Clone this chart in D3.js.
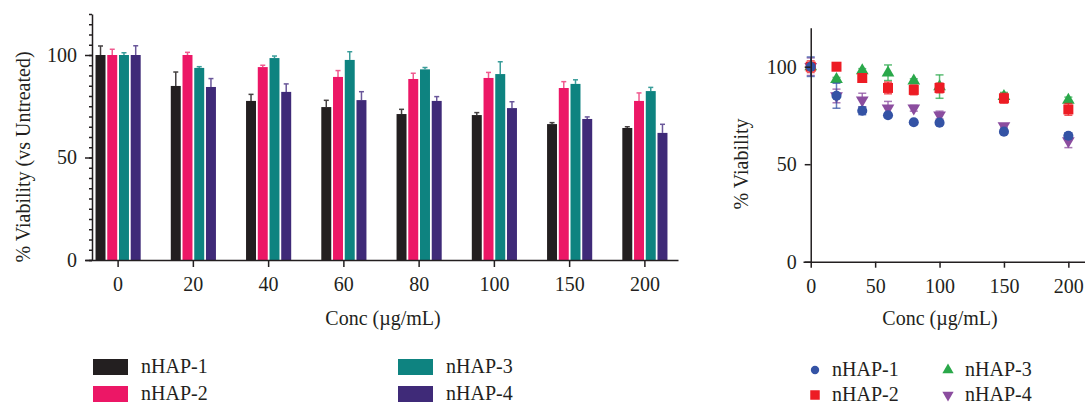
<!DOCTYPE html>
<html>
<head>
<meta charset="utf-8">
<script src="https://cdn.jsdelivr.net/npm/d3@7"></script>
<style>
  body { margin: 0; background: #fff; }
  svg text { font-family: "Liberation Serif", "DejaVu Serif", serif; fill: #231f20; }
</style>
</head>
<body>
<div id="my_dataviz"></div>
<script>
// categories and series
var concs = ["0", "20", "40", "60", "80", "100", "150", "200"];
var concNum = [0, 20, 40, 60, 80, 100, 150, 200];
var series = ["nHAP-1", "nHAP-2", "nHAP-3", "nHAP-4"];

// bar chart values (mean, upper error)
var hap1Bar = [100, 84.9, 77.6, 74.6, 71.2, 70.7, 66.3, 64.4];
var hap2Bar = [100, 100, 94.1, 89.3, 88.3, 88.8, 83.9, 77.6];
var hap3Bar = [100, 93.7, 98.5, 97.6, 93.0, 90.7, 85.9, 82.4];
var hap4Bar = [100, 84.4, 82.0, 78.0, 77.6, 74.1, 68.8, 62.0];
var hap1BarErr = [4.4, 6.8, 3.2, 3.3, 2.3, 1.2, 0.7, 0.6];
var hap2BarErr = [2.8, 1.3, 0.9, 3.1, 2.8, 2.7, 3.1, 3.9];
var hap3BarErr = [1.1, 0.6, 1.0, 4.0, 0.9, 6.0, 2.0, 1.8];
var hap4BarErr = [4.5, 4.1, 3.9, 4.1, 2.1, 3.1, 1.0, 4.2];

// scatter values (mean, +/- error)
var hap1Pt = [100, 85.1, 77.4, 75.1, 71.5, 71.3, 66.7, 64.6];
var hap2Pt = [100, 100, 94.2, 89.1, 88.1, 89.1, 83.8, 78.1];
var hap3Pt = [100, 93.5, 98.0, 96.9, 92.8, 89.8, 84.8, 82.9];
var hap4Pt = [100, 85.0, 82.9, 78.7, 78.7, 75.2, 69.6, 62.0];
var hap1PtErr = [5, 6.4, 2, 1, 1, 1, 1, 1.5];
var hap2PtErr = [3, 1, 1, 3, 2.5, 2.5, 2.5, 3];
var hap3PtErr = [1, 1, 1, 4, 1, 6, 2, 1.5];
var hap4PtErr = [4.5, 3.5, 3.5, 3.5, 1.5, 2, 1, 3.5];

var yTicksMajor = [0, 50, 100];
var xTicksRight = [0, 50, 100, 150, 200];

var barColors = ["#231f20", "#ec1766", "#0e8380", "#3f2a78"];
var errColors = ["#444041", "#f0598f", "#3a9d9a", "#6a579a"];
var ptColors = ["#3453a5", "#ed1c24", "#2aa84a", "#8b4d9f"];

var barVals = [hap1Bar, hap2Bar, hap3Bar, hap4Bar];
var barErrs = [hap1BarErr, hap2BarErr, hap3BarErr, hap4BarErr];
var ptVals = [hap1Pt, hap2Pt, hap3Pt, hap4Pt];
var ptErrs = [hap1PtErr, hap2PtErr, hap3PtErr, hap4PtErr];

var width = 1085, height = 404;
var axisColor = "#231f20";

var svg = d3.select("#my_dataviz")
  .append("svg")
    .attr("width", width)
    .attr("height", height);

// ---------------- left: grouped bar chart ----------------
var x0 = d3.scaleBand()
  .domain(concs)
  .range([85, 678])
  .paddingInner(0.4)
  .paddingOuter(0.14);

var x1 = d3.scaleBand()
  .domain(series)
  .range([0, x0.bandwidth()])
  .paddingInner(0.15);

var yL = d3.scaleLinear()
  .domain([0, 120])
  .range([260, 14]);

var left = svg.append("g");

var groups = left.selectAll("g.grp")
  .data(concs)
  .enter().append("g")
    .attr("class", "grp")
    .attr("transform", function(d) { return "translate(" + x0(d) + ",0)"; });

series.forEach(function(s, si) {
  // error bars (upper only)
  groups.append("line")
    .attr("x1", function(d, i) { return x1(s) + x1.bandwidth() / 2; })
    .attr("x2", function(d, i) { return x1(s) + x1.bandwidth() / 2; })
    .attr("y1", function(d, i) { return yL(barVals[si][i]); })
    .attr("y2", function(d, i) { return yL(barVals[si][i] + barErrs[si][i]); })
    .attr("stroke", errColors[si])
    .attr("stroke-width", 1.5);
  groups.append("line")
    .attr("x1", function(d, i) { return x1(s) + x1.bandwidth() / 2 - 2.5; })
    .attr("x2", function(d, i) { return x1(s) + x1.bandwidth() / 2 + 2.5; })
    .attr("y1", function(d, i) { return yL(barVals[si][i] + barErrs[si][i]); })
    .attr("y2", function(d, i) { return yL(barVals[si][i] + barErrs[si][i]); })
    .attr("stroke", errColors[si])
    .attr("stroke-width", 1.5);
  groups.append("rect")
    .attr("x", x1(s))
    .attr("width", x1.bandwidth())
    .attr("y", function(d, i) { return yL(barVals[si][i]); })
    .attr("height", function(d, i) { return yL(0) - yL(barVals[si][i]); })
    .attr("fill", barColors[si]);
});

// y axis: minor ticks every 5, major at 0/50/100
left.append("g")
  .attr("transform", "translate(92,0)")
  .call(d3.axisLeft(yL).tickValues(d3.range(0, 121, 5)).tickSize(3).tickSizeOuter(0).tickFormat(""));
left.append("g")
  .attr("transform", "translate(92,0)")
  .call(d3.axisLeft(yL).tickValues(yTicksMajor).tickSize(7).tickSizeOuter(0).tickPadding(8))
  .call(function(g) { g.select(".domain").remove(); });

left.append("g")
  .attr("transform", "translate(0,260)")
  .call(d3.axisBottom(x0).tickSize(7).tickSizeOuter(0).tickPadding(10));

left.append("text")
  .attr("x", 383)
  .attr("y", 325)
  .attr("text-anchor", "middle")
  .attr("font-size", 20)
  .text("Conc (µg/mL)");

left.append("text")
  .attr("transform", "translate(30,157) rotate(-90)")
  .attr("text-anchor", "middle")
  .attr("font-size", 20)
  .text("% Viability (vs Untreated)");

// legend left
var legL = [[93, 359], [93, 386], [398, 359], [398, 386]];
series.forEach(function(s, si) {
  left.append("rect")
    .attr("x", legL[si][0]).attr("y", legL[si][1])
    .attr("width", 35).attr("height", 16)
    .attr("fill", barColors[si]);
  left.append("text")
    .attr("x", legL[si][0] + 48).attr("y", legL[si][1] + 14)
    .attr("font-size", 20)
    .text(s);
});

// ---------------- right: scatter with error bars ----------------
var xR = d3.scaleLinear()
  .domain([-6, 216.8])
  .range([803, 1090]);
var yR = d3.scaleLinear()
  .domain([0, 120])
  .range([261.7, 27.7]);

var right = svg.append("g");

var symbols = [d3.symbolCircle, d3.symbolSquare, d3.symbolTriangle, d3.symbolTriangle];
var symSize = [80, 100, 70, 70];
var symRot = [0, 0, 0, 180];

// draw order: nHAP-4, nHAP-3, nHAP-2, nHAP-1 (1 on top)
[3, 2, 1, 0].forEach(function(si) {
  var g = right.append("g");
  var pts = g.selectAll("g.pt")
    .data(concNum)
    .enter().append("g")
      .attr("class", "pt");
  pts.append("line")
    .attr("x1", function(d) { return xR(d); })
    .attr("x2", function(d) { return xR(d); })
    .attr("y1", function(d, i) { return yR(ptVals[si][i] - ptErrs[si][i]); })
    .attr("y2", function(d, i) { return yR(ptVals[si][i] + ptErrs[si][i]); })
    .attr("stroke", ptColors[si]).attr("stroke-opacity", 0.75)
    .attr("stroke-width", 1.5);
  [-1, 1].forEach(function(sgn) {
    pts.append("line")
      .attr("x1", function(d) { return xR(d) - 4; })
      .attr("x2", function(d) { return xR(d) + 4; })
      .attr("y1", function(d, i) { return yR(ptVals[si][i] + sgn * ptErrs[si][i]); })
      .attr("y2", function(d, i) { return yR(ptVals[si][i] + sgn * ptErrs[si][i]); })
      .attr("stroke", ptColors[si]).attr("stroke-opacity", 0.75)
      .attr("stroke-width", 1.5);
  });
  pts.append("path")
    .attr("d", d3.symbol().type(symbols[si]).size(symSize[si]))
    .attr("transform", function(d, i) {
      return "translate(" + xR(d) + "," + yR(ptVals[si][i]) + ") rotate(" + symRot[si] + ")";
    })
    .attr("fill", ptColors[si]);
});

right.append("g")
  .attr("transform", "translate(" + xR(0) + ",0)")
  .call(d3.axisLeft(yR).tickValues(yTicksMajor).tickSize(6).tickSizeOuter(0).tickPadding(8));

right.append("g")
  .attr("transform", "translate(0," + yR(0) + ")")
  .call(d3.axisBottom(xR).tickValues(xTicksRight).tickSize(6).tickSizeOuter(0).tickPadding(11));

right.append("text")
  .attr("x", 940)
  .attr("y", 325)
  .attr("text-anchor", "middle")
  .attr("font-size", 20)
  .text("Conc (µg/mL)");

right.append("text")
  .attr("transform", "translate(748,164) rotate(-90)")
  .attr("text-anchor", "middle")
  .attr("font-size", 20)
  .text("% Viability");

// legend right
var legR = [[815, 370], [815, 395], [948, 370], [948, 395]];
var legSize = [55, 90, 55, 55];
series.forEach(function(s, si) {
  right.append("path")
    .attr("d", d3.symbol().type(symbols[si]).size(legSize[si]))
    .attr("transform", "translate(" + legR[si][0] + "," + legR[si][1] + ") rotate(" + symRot[si] + ")")
    .attr("fill", ptColors[si]);
  right.append("text")
    .attr("x", legR[si][0] + 17).attr("y", legR[si][1] + 6)
    .attr("font-size", 20)
    .text(s);
});

// axis styling
svg.selectAll(".domain, .tick line")
  .attr("stroke", axisColor)
  .attr("stroke-width", 1.5);
svg.selectAll(".tick text")
  .attr("font-size", 20)
  .attr("font-family", "Liberation Serif, DejaVu Serif, serif")
  .attr("fill", axisColor);
</script>
</body>
</html>
